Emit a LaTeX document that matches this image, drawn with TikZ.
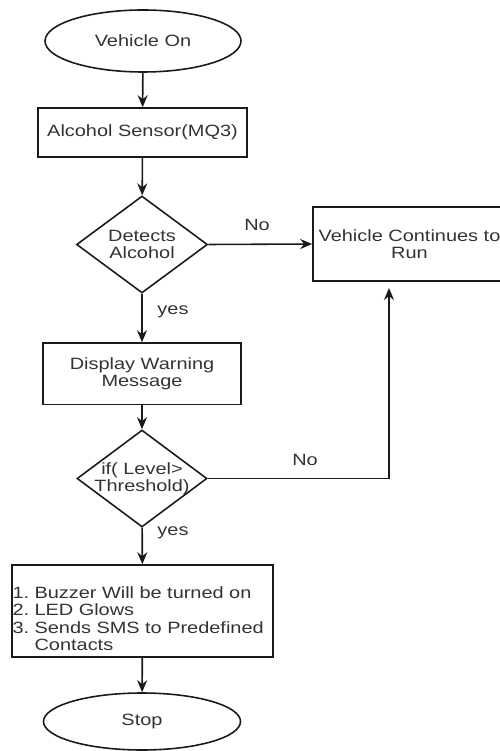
\documentclass[tikz,border=0pt]{standalone}
\usepackage{fontspec}
\setmainfont{Liberation Sans}[FakeStretch=1.22]
\usepackage{xcolor}
\usetikzlibrary{shapes.geometric,arrows.meta}
\definecolor{LineC}{HTML}{1a1a1a}
\definecolor{TextC}{HTML}{333333}
\tikzset{
  flowtext/.style={text=TextC, font=\fontsize{9.3}{9.9}\selectfont\frenchspacing},
  terminal/.style={flowtext, draw=LineC, line width=0.9pt, ellipse, inner sep=0pt},
  procbox/.style={flowtext, draw=LineC, line width=0.9pt, rectangle, align=center, inner sep=0pt},
  decision/.style={flowtext, draw=LineC, line width=0.9pt, diamond, aspect=1.35, inner sep=0pt, align=center},
  flow/.style={draw=LineC, line width=0.9pt, -{Stealth[length=2.4mm, width=2mm]}},
  flowlabel/.style={flowtext},
}

\begin{document}
\begin{tikzpicture}%
\useasboundingbox (0,0) rectangle (9.98,-15.02);%
\node[terminal, minimum width=3.92cm, minimum height=1.24cm] (start) at (2.86,-0.82) {Vehicle On};%
\node[procbox, minimum width=4.18cm, minimum height=0.98cm] (sensor) at (2.85,-2.65) {Alcohol Sensor(MQ3)};%
\node[decision, minimum width=2.62cm, minimum height=1.94cm] (detect) at (2.84,-4.89) {Detects\\Alcohol};%
\node[procbox, minimum width=3.86cm, minimum height=1.48cm] (cont) at (8.19,-4.88) {Vehicle Continues to\\Run};%
\node[procbox, minimum width=3.96cm, minimum height=1.23cm] (warn) at (2.84,-7.475) {Display Warning\\Message};%
\node[decision, minimum width=2.60cm, minimum height=1.94cm] (level) at (2.84,-9.57) {\makebox[0pt]{if( Level>}\\\makebox[0pt]{Threshold)}};%
\node[procbox, minimum width=5.22cm, minimum height=1.84cm, text width=5.2cm, align=left] (alert) at (2.85,-12.22) {\rule{0pt}{0.55cm}1. Buzzer Will be turned on\\2. LED Glows\\3. Sends SMS to Predefined\\\hphantom{3.\ }Contacts};%
\node[terminal, minimum width=3.94cm, minimum height=1.14cm] (stop) at (2.84,-14.43) {Stop};%
\coordinate (back) at (7.78,-5.76);%
\draw[flow] (start) -- (sensor);%
\draw[flow] (sensor) -- (detect);%
\draw[flow] (detect.east) -- (cont.west);%
\draw[flow] (detect) -- (warn);%
\draw[flow] (warn) -- (level);%
\draw[flow] (level.east) -| (back);%
\draw[flow] (level) -- (alert);%
\draw[flow] (alert) -- (stop);%
\node[flowlabel] (no1) at (5.14,-4.50) {No};%
\node[flowlabel] (yes1) at (3.46,-6.24) {yes};%
\node[flowlabel] (no2) at (6.10,-9.20) {No};%
\node[flowlabel] (yes2) at (3.46,-10.66) {yes};%
\end{tikzpicture}
\end{document}
